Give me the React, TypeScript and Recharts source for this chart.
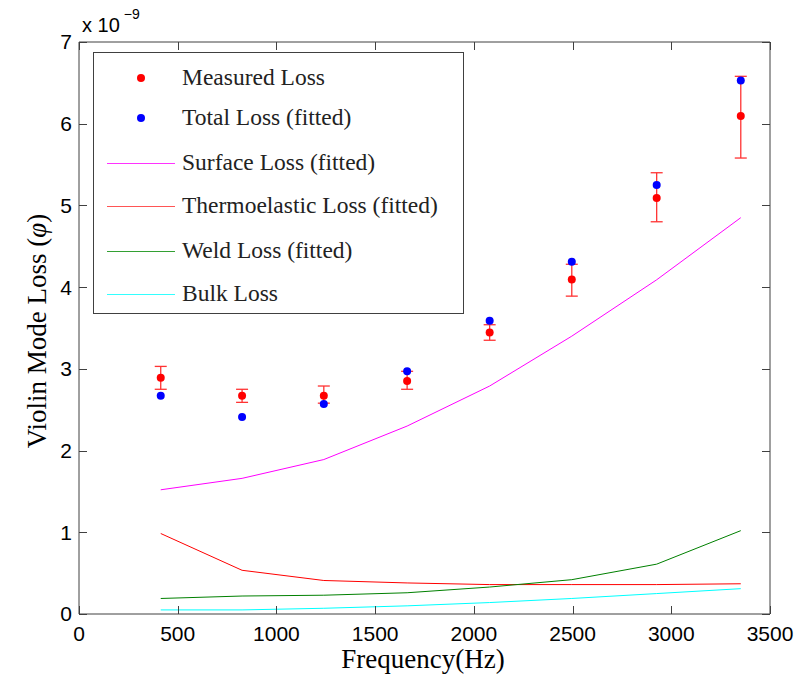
import React from "react";
import {
  ComposedChart,
  Line,
  Scatter,
  ErrorBar,
  XAxis,
  YAxis,
  Legend,
  ReferenceLine,
} from "recharts";

// frequency of each violin mode (Hz)
const freq = [414, 826, 1240, 1662, 2080, 2496, 2926, 3352];

// losses in units of 1e-9
const measured = [2.89, 2.67, 2.67, 2.85, 3.445, 4.095, 5.09, 6.095];
const measuredLow = [2.75, 2.59, 2.58, 2.75, 3.35, 3.89, 4.8, 5.58];
const measuredHigh = [3.03, 2.75, 2.79, 2.97, 3.54, 4.28, 5.4, 6.58];
const totalFit = [2.67, 2.41, 2.57, 2.97, 3.59, 4.31, 5.25, 6.53];
const surfaceFit = [1.52, 1.66, 1.89, 2.3, 2.79, 3.4, 4.09, 4.85];
const thermoFit = [0.985, 0.535, 0.41, 0.38, 0.36, 0.36, 0.36, 0.37];
const weldFit = [0.19, 0.22, 0.23, 0.26, 0.33, 0.42, 0.61, 1.02];
const bulkLoss = [0.05, 0.05, 0.07, 0.1, 0.14, 0.19, 0.25, 0.31];

const xTicks = [0, 500, 1000, 1500, 2000, 2500, 3000, 3500];
const yTicks = [0, 1, 2, 3, 4, 5, 6, 7];

const data = freq.map((f, i) => ({
  freq: f,
  measured: measured[i],
  err: [measured[i] - measuredLow[i], measuredHigh[i] - measured[i]],
  total: totalFit[i],
  surface: surfaceFit[i],
  thermo: thermoFit[i],
  weld: weldFit[i],
  bulk: bulkLoss[i],
}));

const AXIS = "#404040";
const PLOT = { left: 79, right: 770, top: 42, bottom: 614 };
const TICK_LEN = 8;

// tick mark drawn inward on both sides of the box, plus the label
const XTick = (props: any) => {
  const { x, y, payload } = props;
  const px = Math.round(x) + 0.5;
  return (
    <g>
      <line x1={px} x2={px} y1={PLOT.bottom} y2={PLOT.bottom - TICK_LEN} stroke={AXIS} strokeWidth={1} />
      <line x1={px} x2={px} y1={PLOT.top} y2={PLOT.top + TICK_LEN} stroke={AXIS} strokeWidth={1} />
      <text x={x} y={y} dy="0.71em" textAnchor="middle" fill="#000" fontFamily="Liberation Sans, Arial" fontSize={21}>
        {payload.value}
      </text>
    </g>
  );
};

const YTick = (props: any) => {
  const { x, y, payload } = props;
  const py = Math.round(y) + 0.5;
  return (
    <g>
      <line x1={PLOT.left} x2={PLOT.left + TICK_LEN} y1={py} y2={py} stroke={AXIS} strokeWidth={1} />
      <line x1={PLOT.right} x2={PLOT.right - TICK_LEN} y1={py} y2={py} stroke={AXIS} strokeWidth={1} />
      <text x={x} y={y} dy="0.355em" textAnchor="end" fill="#000" fontFamily="Liberation Sans, Arial" fontSize={21}>
        {payload.value}
      </text>
    </g>
  );
};

const legendItems = [
  { label: "Measured Loss", color: "#ff0000", kind: "dot", y: 25 },
  { label: "Total Loss (fitted)", color: "#0000ff", kind: "dot", y: 65 },
  { label: "Surface Loss (fitted)", color: "#ff33ff", kind: "line", y: 110 },
  { label: "Thermoelastic Loss (fitted)", color: "#ff5555", kind: "line", y: 153 },
  { label: "Weld Loss (fitted)", color: "#33a033", kind: "line", y: 198 },
  { label: "Bulk Loss", color: "#33ffff", kind: "line", y: 241 },
];

const renderLegend = () => (
  <div
    style={{
      position: "relative",
      width: 371,
      height: 262,
      border: `1px solid ${AXIS}`,
      background: "#fff",
      boxSizing: "border-box",
      fontFamily: "Liberation Serif, serif",
      fontSize: 23.5,
      color: "#222",
    }}
  >
    {legendItems.map((it) =>
      it.kind === "dot" ? (
        <div
          key={"m" + it.label}
          style={{
            position: "absolute",
            left: 43,
            top: it.y - 4,
            width: 8,
            height: 8,
            borderRadius: "50%",
            backgroundColor: it.color,
          }}
        />
      ) : (
        <div
          key={"m" + it.label}
          style={{
            position: "absolute",
            left: 13,
            top: it.y,
            width: 68,
            height: 0,
            borderTop: `1.5px solid ${it.color}`,
          }}
        />
      )
    )}
    {legendItems.map((it) => (
      <div
        key={it.label}
        style={{
          position: "absolute",
          left: 88,
          top: it.y - 15,
          lineHeight: "28px",
          whiteSpace: "nowrap",
        }}
      >
        {it.label}
      </div>
    ))}
  </div>
);

const dotShape = (color: string) => (props: any) =>
  <circle cx={props.cx} cy={props.cy} r={4} fill={color} />;

export default function App() {
  return (
    <div style={{ position: "absolute", left: 0, top: 0, background: "#fff" }}>
      <ComposedChart
        width={811}
        height={679}
        data={data}
        margin={{ top: PLOT.top, right: 811 - PLOT.right, bottom: 0, left: 0 }}
      >
        <XAxis
          dataKey="freq"
          type="number"
          domain={[0, 3500]}
          ticks={xTicks}
          height={679 - PLOT.bottom}
          tickSize={0}
          tickMargin={12}
          tickLine={false}
          stroke={AXIS}
          tick={XTick}
          allowDataOverflow
          label={() => (
            <text
              x={423}
              y={668}
              textAnchor="middle"
              fontFamily="Liberation Serif, serif"
              fontSize={27}
              fill="#000"
            >
              Frequency(Hz)
            </text>
          )}
        />
        <YAxis
          type="number"
          domain={[0, 7]}
          ticks={yTicks}
          width={PLOT.left}
          tickSize={0}
          tickMargin={7}
          tickLine={false}
          stroke={AXIS}
          tick={YTick}
          allowDataOverflow
          label={() => (
            <text
              x={37}
              y={331}
              transform="rotate(-90 37 331)"
              textAnchor="middle"
              dominantBaseline="central"
              fontFamily="Liberation Serif, serif"
              fontSize={27}
              fill="#000"
            >
              Violin Mode Loss (<tspan fontStyle="italic">φ</tspan>)
            </text>
          )}
        />
        <ReferenceLine
          y={7}
          stroke={AXIS}
          label={() => (
            <text x={82} y={32} fontFamily="Liberation Sans, Arial" fontSize={20} fill="#000">
              x 10
              <tspan dx={4} dy={-13} fontSize={14}>
                −9
              </tspan>
            </text>
          )}
        />
        <ReferenceLine x={3500} stroke={AXIS} />
        <Legend
          layout="vertical"
          align="center"
          verticalAlign="middle"
          content={renderLegend}
          wrapperStyle={{ left: 93, top: 52, width: 371, height: 262 }}
        />
        <Line type="linear" dataKey="surface" stroke="#ff00ff" strokeWidth={1} dot={false} activeDot={false} isAnimationActive={false} />
        <Line type="linear" dataKey="thermo" stroke="#ff0000" strokeWidth={1} dot={false} activeDot={false} isAnimationActive={false} />
        <Line type="linear" dataKey="weld" stroke="#008000" strokeWidth={1} dot={false} activeDot={false} isAnimationActive={false} />
        <Line type="linear" dataKey="bulk" stroke="#00ffff" strokeWidth={1} dot={false} activeDot={false} isAnimationActive={false} />
        <Scatter dataKey="measured" fill="#ff0000" shape={dotShape("#ff0000")} isAnimationActive={false}>
          <ErrorBar dataKey="err" direction="y" width={6} stroke="#ff3333" strokeWidth={1.3} />
        </Scatter>
        <Scatter dataKey="total" fill="#0000ff" shape={dotShape("#0000ff")} isAnimationActive={false} />
      </ComposedChart>
    </div>
  );
}
